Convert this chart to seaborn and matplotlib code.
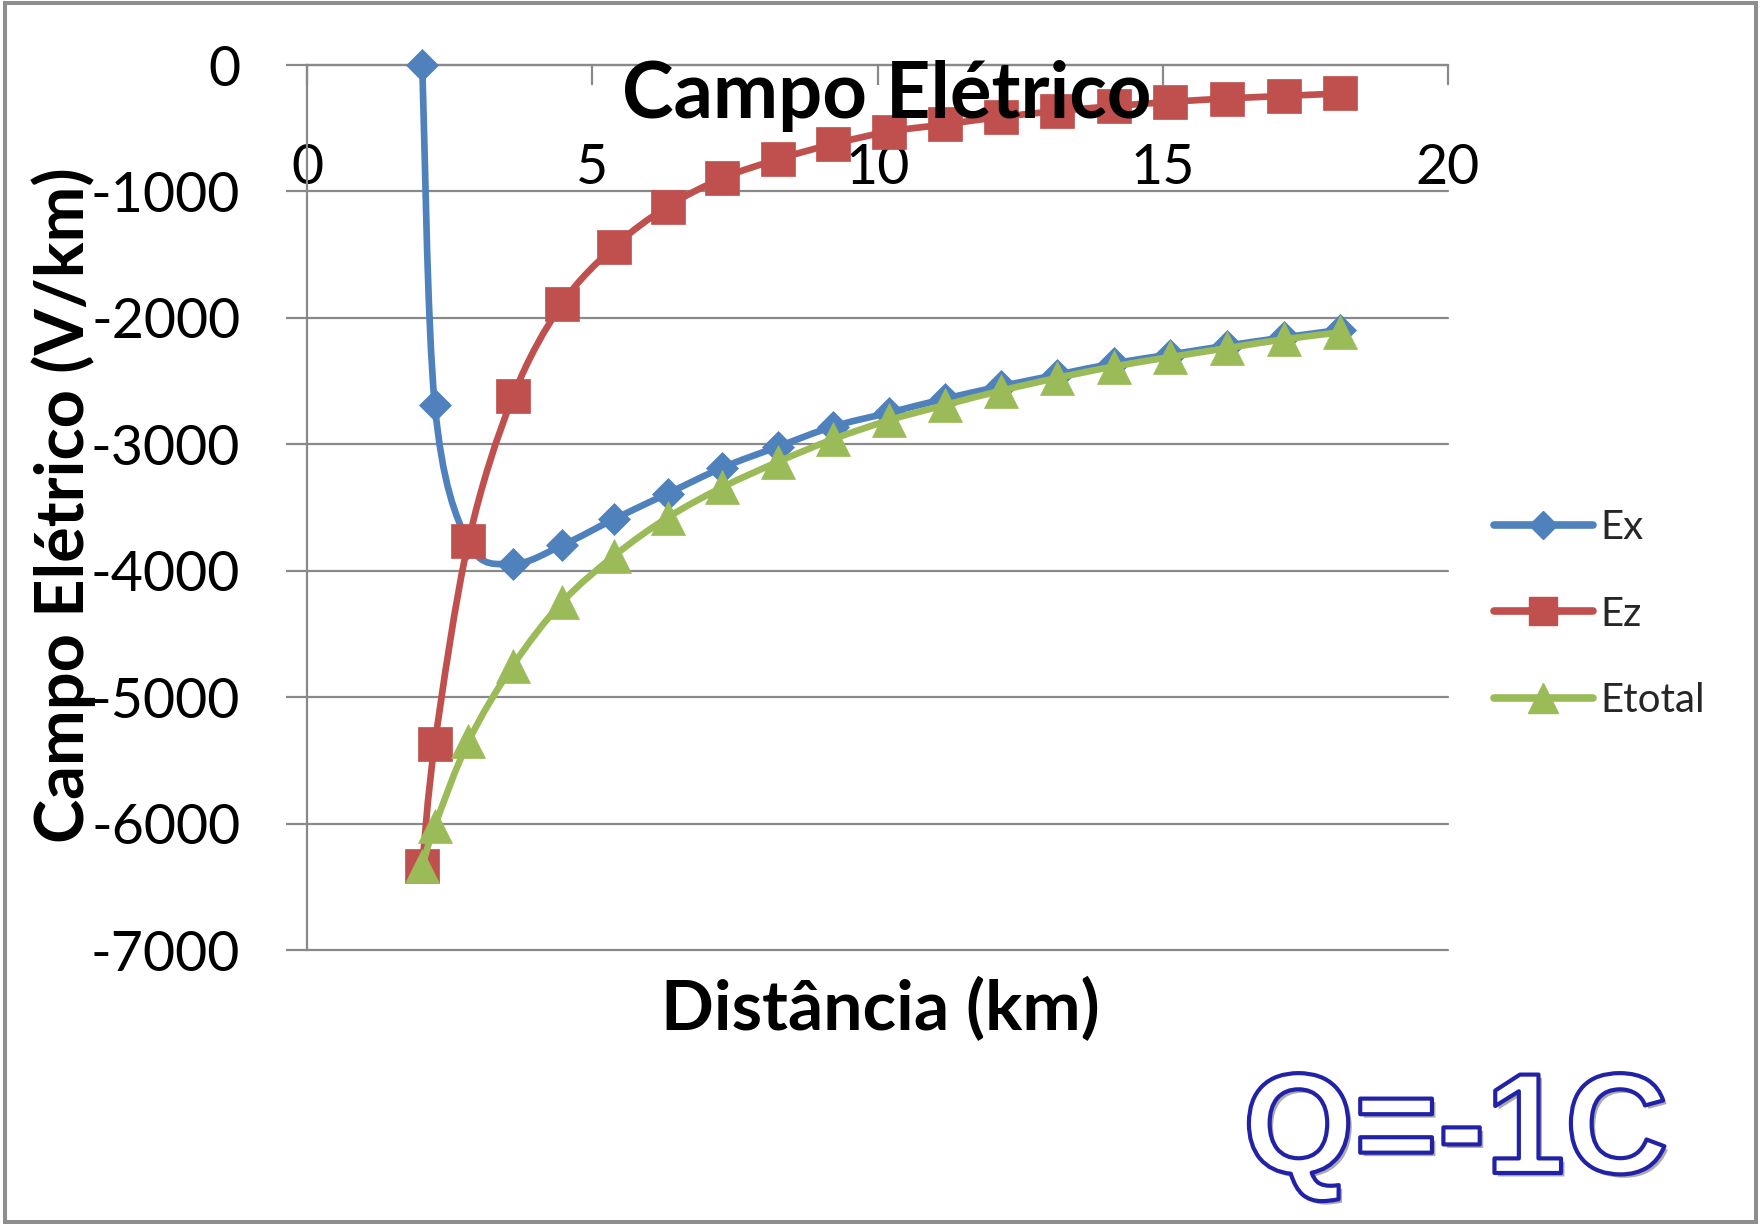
import numpy as np
import pandas as pd
import matplotlib
matplotlib.use("Agg")
import matplotlib.pyplot as plt
import seaborn as sns
from matplotlib.path import Path
from matplotlib.patches import PathPatch, Rectangle
from matplotlib.lines import Line2D
import matplotlib.patheffects as pe

# ---------------- data ----------------
distancia = [2.02, 2.24, 2.83, 3.61, 4.47, 5.39, 6.32, 7.28, 8.25, 9.22,
             10.20, 11.18, 12.17, 13.15, 14.14, 15.13, 16.12, 17.12, 18.11]
ex = [0, -2688, -3780, -3945, -3800, -3590, -3390, -3185, -3020, -2860,
      -2750, -2640, -2540, -2450, -2360, -2290, -2220, -2155, -2095]
ez = [-6337, -5370, -3768, -2622, -1889, -1436, -1120, -896, -746, -625,
      -527, -470, -410, -365, -325, -292, -265, -245, -225]
etotal = [-6337, -6020, -5350, -4750, -4250, -3880, -3580, -3340, -3140, -2960,
          -2810, -2690, -2575, -2475, -2385, -2310, -2240, -2170, -2115]
series_names = ["Ex", "Ez", "Etotal"]
x_ticks = [0, 5, 10, 15, 20]
y_ticks = [0, -1000, -2000, -3000, -4000, -5000, -6000, -7000]

titulo = "Campo Elétrico"
x_rotulo = "Distância (km)"
y_rotulo = "Campo Elétrico (V/km)"
carga = "Q=-1C"

# ---------------- style ----------------
sns.set_theme(style="white")
plt.rcParams["font.family"] = ["Lato", "DejaVu Sans"]
plt.rcParams["axes.unicode_minus"] = False

W, H = 1761, 1225
fig = plt.figure(figsize=(W / 100, H / 100), dpi=100)
fig.patch.set_facecolor("white")

ax = fig.add_axes([307 / W, 1 - 950 / H, (1448 - 307) / W, (950 - 65) / H])
ax.set_facecolor("white")

GRID = "#898989"
colors = ["#4F81BD", "#C0504D", "#9BBB59"]
markers = ["D", "s", "^"]
msizes = [16.5, 24.5, 25]
LW = 4.8

df = pd.DataFrame({"dist": distancia, "Ex": ex, "Ez": ez, "Etotal": etotal})


def smooth_path(xs, ys):
    pts = np.column_stack([xs, ys]).astype(float)
    n = len(pts)
    verts = [pts[0]]
    codes = [Path.MOVETO]
    for i in range(n - 1):
        p0 = pts[i - 1] if i > 0 else pts[i]
        p1 = pts[i]
        p2 = pts[i + 1]
        p3 = pts[i + 2] if i + 2 < n else pts[i + 1]
        c1 = p1 + (p2 - p0) / 6.0
        c2 = p2 - (p3 - p1) / 6.0
        verts += [c1, c2, p2]
        codes += [Path.CURVE4] * 3
    return Path(verts, codes)


for k, name in enumerate(series_names):
    z = 3 + k
    patch = PathPatch(smooth_path(df["dist"], df[name]), facecolor="none",
                      edgecolor=colors[k], lw=LW, zorder=z, clip_on=False,
                      capstyle="round", joinstyle="round")
    ax.add_patch(patch)
    sns.lineplot(data=df, x="dist", y=name, ax=ax, color=colors[k],
                 marker=markers[k], markersize=msizes[k], markeredgecolor=colors[k],
                 markeredgewidth=0.5, linewidth=0, zorder=z + 0.5, clip_on=False,
                 sort=False)

ax.set_xlim(0, 20)
ax.set_ylim(-7000, 0)
ax.set_xticks(x_ticks)
ax.set_yticks(y_ticks)
ax.set_xticklabels([str(v) for v in x_ticks])
ax.set_yticklabels([str(v) for v in y_ticks])
ax.set_xlabel("")
ax.set_ylabel("")

ax.yaxis.grid(True, color=GRID, lw=1.6)
ax.xaxis.grid(False)
for gl in ax.get_ygridlines():
    gl.set_clip_on(False)
    gl.set_zorder(1)

for s in ["top", "right"]:
    ax.spines[s].set_visible(False)
ax.spines["left"].set_color(GRID)
ax.spines["left"].set_linewidth(1.6)
ax.spines["bottom"].set_position(("data", 0))
ax.spines["bottom"].set_color(GRID)
ax.spines["bottom"].set_linewidth(1.6)

ax.tick_params(axis="y", left=True, direction="out", length=15, width=1.6,
               color=GRID, pad=33, labelsize=40, labelcolor="black")
ax.tick_params(axis="x", bottom=True, direction="out", length=14.5, width=1.6,
               color=GRID, pad=42, labelsize=40, labelcolor="black")

# ---------------- texts ----------------
fig.text(887 / W, 1 - 118 / H, titulo, ha="center", va="baseline",
         fontsize=56, fontweight="bold", color="black", zorder=10)
fig.text(880 / W, 1 - 1030 / H, x_rotulo, ha="center", va="baseline",
         fontsize=50, fontweight="bold", color="black")
fig.text(64 / W, 1 - 505 / H, y_rotulo, ha="center", va="center", rotation=90,
         fontsize=48, fontweight="bold", color="black")

# ---------------- legend ----------------
handles = [Line2D([0], [0], color=colors[k], lw=5.5, marker=markers[k],
                  markersize=msizes[k] * 0.85, markeredgecolor=colors[k],
                  solid_capstyle="round")
           for k in range(3)]
fig.legend(handles, series_names, loc="center left",
           bbox_to_anchor=(1494 / W, 1 - 614 / H), bbox_transform=fig.transFigure,
           frameon=False, fontsize=29, handlelength=2.45, handletextpad=0.2,
           labelspacing=1.22, borderpad=0, borderaxespad=0)

# ---------------- Q=-1C outlined text ----------------
fig.text(1243 / W, 1 - 1173 / H, carga, ha="left", va="baseline",
         fontsize=103, fontweight="bold", family="Liberation Sans", color="white",
         path_effects=[pe.SimplePatchShadow(offset=(2.5, -2.5), shadow_rgbFace="0.45", alpha=0.6),
                       pe.Stroke(linewidth=3.0, foreground="#2222A8")])

# ---------------- outer border ----------------
fig.add_artist(Rectangle((4.5 / W, 1 - 1222 / H), (1756 - 4.5) / W, (1222 - 3.3) / H,
                         transform=fig.transFigure, fill=False,
                         edgecolor="#8E8E8E", lw=2.9))

fig.savefig("out.png", dpi=100, facecolor="white")
